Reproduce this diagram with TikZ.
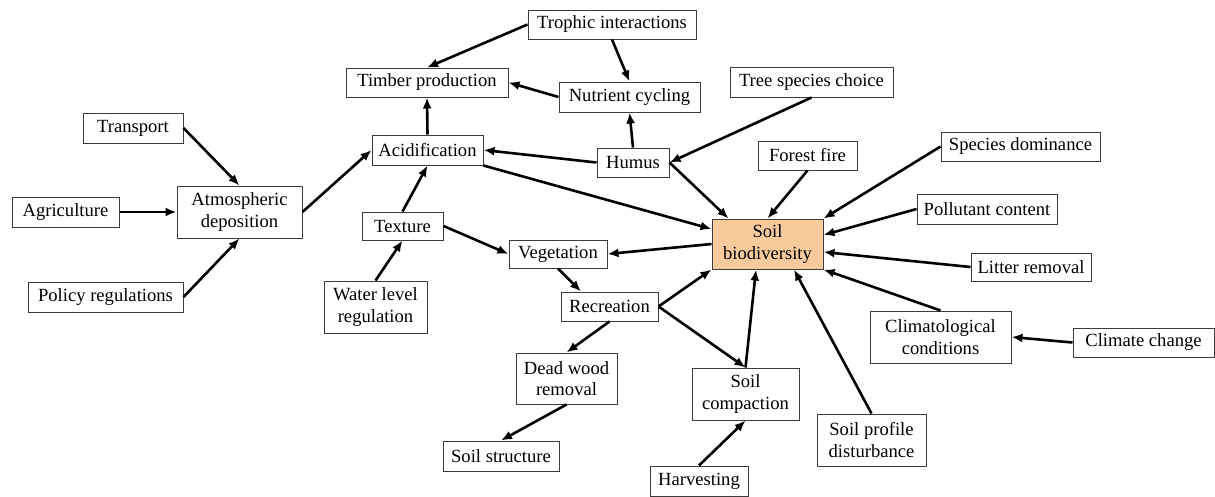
\documentclass[tikz,border=0pt]{standalone}
\usepackage{fontspec}
\setmainfont{Liberation Serif}
\usetikzlibrary{arrows.meta}
\definecolor{soilfill}{RGB}{249,203,156}
\definecolor{boxline}{RGB}{60,60,60}
\begin{document}
\begin{tikzpicture}[x=1pt,y=-1pt,
  box/.style={draw=boxline,line width=1pt,fill=white,inner sep=0pt,align=center,
    font=\fontsize{18.6}{21.5}\selectfont},
  arr/.style={line width=2.6pt,-{Latex[length=11pt,width=9pt]}}]
\useasboundingbox (0,0) rectangle (1215,496);

% boxes
\node[box,minimum width=100pt,minimum height=30pt] (trans) at (133,128) {Transport};
\node[box,minimum width=107pt,minimum height=30pt] (agri) at (65.5,212) {Agriculture};
\node[box,minimum width=125pt,minimum height=52pt] (atm) at (239.5,212) {Atmospheric\\deposition};
\node[box,minimum width=155pt,minimum height=30pt] (policy) at (105.5,297) {Policy regulations};
\node[box,minimum width=111pt,minimum height=30pt] (acid) at (427.5,150) {Acidification};
\node[box,minimum width=162pt,minimum height=29pt] (timber) at (427,82.5) {Timber production};
\node[box,minimum width=168pt,minimum height=29pt] (trophic) at (612,24.5) {Trophic interactions};
\node[box,minimum width=141pt,minimum height=30pt] (nutrient) at (629.5,97) {Nutrient cycling};
\node[box,minimum width=72pt,minimum height=29pt] (humus) at (633,162.5) {Humus};
\node[box,minimum width=163pt,minimum height=30pt] (tree) at (811.5,82) {Tree species choice};
\node[box,minimum width=81pt,minimum height=28pt] (tex) at (402.5,226) {Texture};
\node[box,minimum width=103pt,minimum height=52pt] (water) at (375.5,307) {Water level\\regulation};
\node[box,minimum width=98pt,minimum height=28pt] (veg) at (558,254) {Vegetation};
\node[box,fill=soilfill,minimum width=111pt,minimum height=50pt] (sb) at (767.5,244) {Soil\\biodiversity};
\node[box,minimum width=97pt,minimum height=29pt] (rec) at (609.5,306.5) {Recreation};
\node[box,minimum width=101pt,minimum height=51pt] (dead) at (566.5,378.5) {Dead wood\\removal};
\node[box,minimum width=107pt,minimum height=52pt] (comp) at (745.5,394) {Soil\\compaction};
\node[box,minimum width=116pt,minimum height=30pt] (struct) at (501,456) {Soil structure};
\node[box,minimum width=98pt,minimum height=30pt] (harv) at (699,481) {Harvesting};
\node[box,minimum width=109pt,minimum height=52pt] (profile) at (871.5,440) {Soil profile\\disturbance};
\node[box,minimum width=99pt,minimum height=29pt] (fire) at (807.5,155.5) {Forest fire};
\node[box,minimum width=159pt,minimum height=29pt] (species) at (1020.5,146.5) {Species dominance};
\node[box,minimum width=140pt,minimum height=30pt] (pollut) at (987,209) {Pollutant content};
\node[box,minimum width=120pt,minimum height=28pt] (litter) at (1031,267) {Litter removal};
\node[box,minimum width=141pt,minimum height=52pt] (climcond) at (940.5,337) {Climatological\\conditions};
\node[box,minimum width=141pt,minimum height=29pt] (cchange) at (1143.5,342.5) {Climate change};

% connectors
\draw[arr] (trans.east) -- (atm.north);
\draw[arr] (agri.east) -- (atm.west);
\draw[arr] (policy.east) -- (atm.south);
\draw[arr] (atm.east) -- (acid.west);
\draw[arr] (tex.north) -- (acid.south);
\draw[arr] (water.north) -- (tex.south);
\draw[arr] (acid.north) -- (timber.south);
\draw[arr] (trophic.west) -- (timber.north);
\draw[arr] (trophic.south) -- (nutrient.north);
\draw[arr] (nutrient.west) -- (timber.east);
\draw[arr] (humus.north) -- (nutrient.south);
\draw[arr] (humus.west) -- (acid.east);
\draw[arr] (tree.south) -- (humus.east);
\draw[arr] (humus.east) -- ([xshift=17pt]sb.north west);
\draw[arr] (acid.south east) -- ([yshift=15pt]sb.west);
\draw[arr] (fire.south) -- (sb.north);
\draw[arr] (species.west) -- (sb.north east);
\draw[arr] (pollut.west) -- ([yshift=9pt]sb.east);
\draw[arr] (litter.west) -- ([yshift=-8pt]sb.east);
\draw[arr] (climcond.north) -- (sb.south east);
\draw[arr] (cchange.west) -- (climcond.east);
\draw[arr] (profile.north) -- ([xshift=26.5pt]sb.south);
\draw[arr] (comp.north) -- ([xshift=-11.5pt]sb.south);
\draw[arr] (rec.east) -- (comp.north);
\draw[arr] (rec.east) -- (sb.south west);
\draw[arr] (sb.west) -- (veg.east);
\draw[arr] (tex.east) -- (veg.west);
\draw[arr] (veg.south) -- ([xshift=-28.5pt]rec.north);
\draw[arr] (rec.south) -- (dead.north);
\draw[arr] (dead.south) -- (struct.north);
\draw[arr] (harv.north) -- (comp.south);
\end{tikzpicture}
\end{document}
